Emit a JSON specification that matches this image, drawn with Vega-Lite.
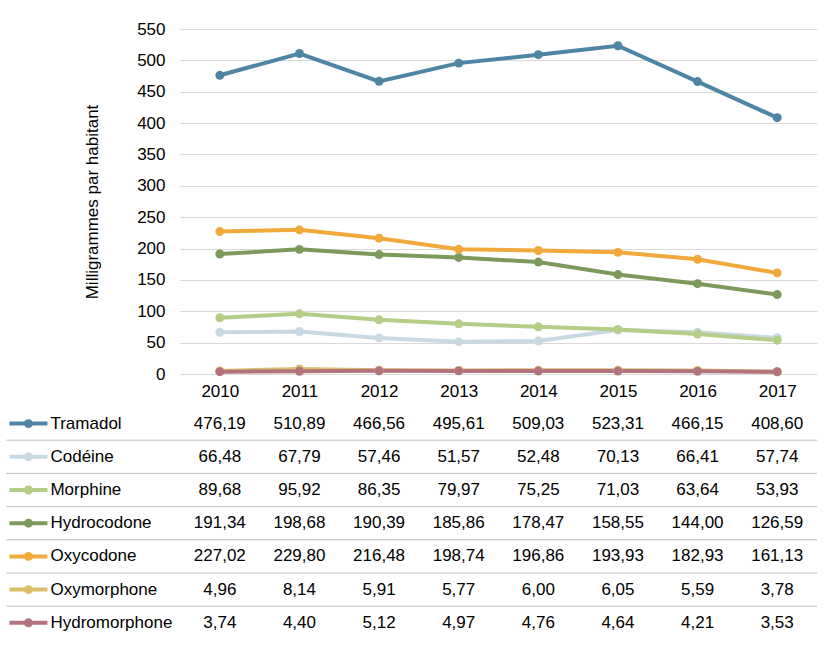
{
  "$schema": "https://vega.github.io/schema/vega-lite/v6.json",
  "padding": {"left": 5, "top": 20, "right": 5, "bottom": 0},
  "spacing": 8,
  "config": {
    "font": "Liberation Sans",
    "view": {"stroke": null},
    "locale": {"number": {"decimal": ",", "thousands": " ", "grouping": [3], "currency": ["", " €"]}},
    "axis": {"labelFont": "Liberation Sans", "labelFontSize": 17, "labelColor": "#000000", "titleFont": "Liberation Sans", "titleFontSize": 17, "titleColor": "#000000", "titleFontWeight": "normal"}
  },
  "datasets": {
    "vals": [
      {"series": "Tramadol", "year": 2010, "value": 476.19},
      {"series": "Tramadol", "year": 2011, "value": 510.89},
      {"series": "Tramadol", "year": 2012, "value": 466.56},
      {"series": "Tramadol", "year": 2013, "value": 495.61},
      {"series": "Tramadol", "year": 2014, "value": 509.03},
      {"series": "Tramadol", "year": 2015, "value": 523.31},
      {"series": "Tramadol", "year": 2016, "value": 466.15},
      {"series": "Tramadol", "year": 2017, "value": 408.60},
      {"series": "Codéine", "year": 2010, "value": 66.48},
      {"series": "Codéine", "year": 2011, "value": 67.79},
      {"series": "Codéine", "year": 2012, "value": 57.46},
      {"series": "Codéine", "year": 2013, "value": 51.57},
      {"series": "Codéine", "year": 2014, "value": 52.48},
      {"series": "Codéine", "year": 2015, "value": 70.13},
      {"series": "Codéine", "year": 2016, "value": 66.41},
      {"series": "Codéine", "year": 2017, "value": 57.74},
      {"series": "Morphine", "year": 2010, "value": 89.68},
      {"series": "Morphine", "year": 2011, "value": 95.92},
      {"series": "Morphine", "year": 2012, "value": 86.35},
      {"series": "Morphine", "year": 2013, "value": 79.97},
      {"series": "Morphine", "year": 2014, "value": 75.25},
      {"series": "Morphine", "year": 2015, "value": 71.03},
      {"series": "Morphine", "year": 2016, "value": 63.64},
      {"series": "Morphine", "year": 2017, "value": 53.93},
      {"series": "Hydrocodone", "year": 2010, "value": 191.34},
      {"series": "Hydrocodone", "year": 2011, "value": 198.68},
      {"series": "Hydrocodone", "year": 2012, "value": 190.39},
      {"series": "Hydrocodone", "year": 2013, "value": 185.86},
      {"series": "Hydrocodone", "year": 2014, "value": 178.47},
      {"series": "Hydrocodone", "year": 2015, "value": 158.55},
      {"series": "Hydrocodone", "year": 2016, "value": 144.00},
      {"series": "Hydrocodone", "year": 2017, "value": 126.59},
      {"series": "Oxycodone", "year": 2010, "value": 227.02},
      {"series": "Oxycodone", "year": 2011, "value": 229.80},
      {"series": "Oxycodone", "year": 2012, "value": 216.48},
      {"series": "Oxycodone", "year": 2013, "value": 198.74},
      {"series": "Oxycodone", "year": 2014, "value": 196.86},
      {"series": "Oxycodone", "year": 2015, "value": 193.93},
      {"series": "Oxycodone", "year": 2016, "value": 182.93},
      {"series": "Oxycodone", "year": 2017, "value": 161.13},
      {"series": "Oxymorphone", "year": 2010, "value": 4.96},
      {"series": "Oxymorphone", "year": 2011, "value": 8.14},
      {"series": "Oxymorphone", "year": 2012, "value": 5.91},
      {"series": "Oxymorphone", "year": 2013, "value": 5.77},
      {"series": "Oxymorphone", "year": 2014, "value": 6.00},
      {"series": "Oxymorphone", "year": 2015, "value": 6.05},
      {"series": "Oxymorphone", "year": 2016, "value": 5.59},
      {"series": "Oxymorphone", "year": 2017, "value": 3.78},
      {"series": "Hydromorphone", "year": 2010, "value": 3.74},
      {"series": "Hydromorphone", "year": 2011, "value": 4.40},
      {"series": "Hydromorphone", "year": 2012, "value": 5.12},
      {"series": "Hydromorphone", "year": 2013, "value": 4.97},
      {"series": "Hydromorphone", "year": 2014, "value": 4.76},
      {"series": "Hydromorphone", "year": 2015, "value": 4.64},
      {"series": "Hydromorphone", "year": 2016, "value": 4.21},
      {"series": "Hydromorphone", "year": 2017, "value": 3.53}
    ]
  },
  "vconcat": [
    {
      "width": 637,
      "height": 345,
      "data": {"name": "vals"},
      "mark": {"type": "line", "strokeWidth": 4, "point": {"filled": true, "size": 80}},
      "encoding": {
        "x": {"field": "year", "type": "quantitative",
          "scale": {"domain": [2009.5, 2017.5], "nice": false, "zero": false},
          "axis": {"values": [2010, 2011, 2012, 2013, 2014, 2015, 2016, 2017], "format": "d", "title": null, "grid": false, "domain": false, "ticks": false, "labelPadding": 9}},
        "y": {"field": "value", "type": "quantitative",
          "scale": {"domain": [0, 550], "nice": false},
          "axis": {"values": [0, 50, 100, 150, 200, 250, 300, 350, 400, 450, 500, 550], "format": "d", "title": "Milligrammes par habitant", "domain": false, "ticks": false, "gridColor": "#D9D9D9", "labelPadding": 15, "titlePadding": 35}},
        "color": {"field": "series", "type": "nominal",
          "scale": {"domain": ["Tramadol", "Codéine", "Morphine", "Hydrocodone", "Oxycodone", "Oxymorphone", "Hydromorphone"],
                    "range": ["#4E84A4", "#C9D9E4", "#B4CD87", "#7C9A5B", "#F2A93B", "#DABF6B", "#B3737D"]},
          "legend": null},
        "order": {"field": "year", "type": "quantitative"}
      }
    },
    {
      "width": 637,
      "height": 232.4,
      "data": {"name": "vals"},
      "layer": [
        {
          "transform": [{"filter": "datum.year == 2010 && datum.series != 'Hydromorphone'"}],
          "mark": {"type": "rule", "color": "#BFBFBF", "strokeWidth": 1},
          "encoding": {
            "x": {"datum": 2007.32, "type": "quantitative", "scale": {"domain": [2009.5, 2017.5], "nice": false, "zero": false}, "axis": null},
            "x2": {"datum": 2017.5},
            "y": {"field": "series", "type": "nominal", "bandPosition": 1,
              "scale": {"type": "band", "domain": ["Tramadol", "Codéine", "Morphine", "Hydrocodone", "Oxycodone", "Oxymorphone", "Hydromorphone"], "paddingInner": 0, "paddingOuter": 0}, "axis": null}
          }
        },
        {
          "transform": [{"filter": "datum.year == 2010"}],
          "mark": {"type": "rule", "strokeWidth": 4},
          "encoding": {
            "x": {"datum": 2007.358, "type": "quantitative", "scale": {"domain": [2009.5, 2017.5], "nice": false, "zero": false}, "axis": null},
            "x2": {"datum": 2007.835},
            "y": {"field": "series", "type": "nominal", "axis": null},
            "color": {"field": "series", "type": "nominal", "legend": null}
          }
        },
        {
          "transform": [{"filter": "datum.year == 2010"}],
          "mark": {"type": "point", "filled": true, "size": 80, "opacity": 1},
          "encoding": {
            "x": {"datum": 2007.597, "type": "quantitative", "axis": null},
            "y": {"field": "series", "type": "nominal", "axis": null},
            "color": {"field": "series", "type": "nominal", "legend": null}
          }
        },
        {
          "transform": [{"filter": "datum.year == 2010"}],
          "mark": {"type": "text", "align": "left", "baseline": "middle", "fontSize": 17, "color": "#000000"},
          "encoding": {
            "x": {"datum": 2007.873, "type": "quantitative", "axis": null},
            "y": {"field": "series", "type": "nominal", "axis": null},
            "text": {"field": "series"}
          }
        },
        {
          "mark": {"type": "text", "align": "center", "baseline": "middle", "fontSize": 17, "color": "#000000"},
          "encoding": {
            "x": {"field": "year", "type": "quantitative", "axis": null},
            "y": {"field": "series", "type": "nominal", "axis": null},
            "text": {"field": "value", "type": "quantitative", "format": ".2f"}
          }
        }
      ]
    }
  ]
}
